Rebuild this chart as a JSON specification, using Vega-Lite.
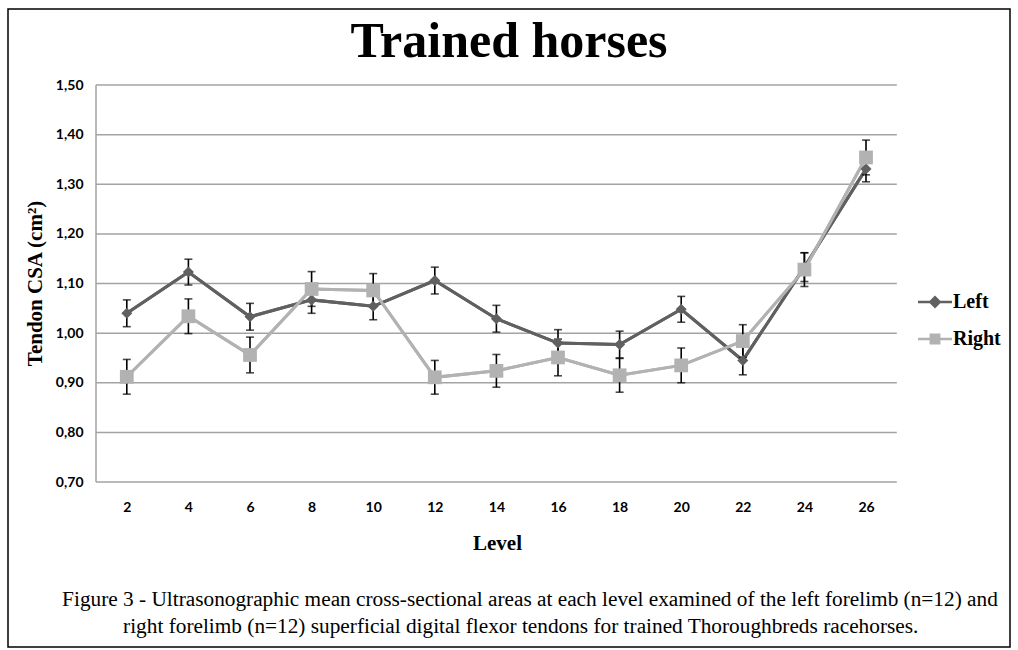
{
  "$schema": "https://vega.github.io/schema/vega-lite/v6.json",
  "width": 1002,
  "height": 638,
  "autosize": {"type": "none"},
  "padding": {"left": 8, "top": 9, "right": 8, "bottom": 3},
  "background": "white",
  "title": {"text": "Trained horses", "font": "Liberation Serif", "fontSize": 50, "fontWeight": "bold", "color": "black", "anchor": "middle", "frame": "group", "offset": -58},
  "config": {"view": {"stroke": "black", "strokeWidth": 1.5, "fill": "white"}},
  "datasets": {
    "cs": [
      {"level": 2, "side": "Left", "mean": 1.040, "lo": 1.013, "hi": 1.067},
      {"level": 4, "side": "Left", "mean": 1.123, "lo": 1.097, "hi": 1.149},
      {"level": 6, "side": "Left", "mean": 1.033, "lo": 1.006, "hi": 1.060},
      {"level": 8, "side": "Left", "mean": 1.067, "lo": 1.040, "hi": 1.094},
      {"level": 10, "side": "Left", "mean": 1.054, "lo": 1.027, "hi": 1.081},
      {"level": 12, "side": "Left", "mean": 1.106, "lo": 1.079, "hi": 1.133},
      {"level": 14, "side": "Left", "mean": 1.029, "lo": 1.002, "hi": 1.056},
      {"level": 16, "side": "Left", "mean": 0.980, "lo": 0.953, "hi": 1.007},
      {"level": 18, "side": "Left", "mean": 0.977, "lo": 0.950, "hi": 1.004},
      {"level": 20, "side": "Left", "mean": 1.048, "lo": 1.022, "hi": 1.074},
      {"level": 22, "side": "Left", "mean": 0.945, "lo": 0.916, "hi": 0.974},
      {"level": 24, "side": "Left", "mean": 1.133, "lo": 1.104, "hi": 1.162},
      {"level": 26, "side": "Left", "mean": 1.331, "lo": 1.305, "hi": 1.357},
      {"level": 2, "side": "Right", "mean": 0.912, "lo": 0.877, "hi": 0.947},
      {"level": 4, "side": "Right", "mean": 1.034, "lo": 0.999, "hi": 1.069},
      {"level": 6, "side": "Right", "mean": 0.956, "lo": 0.920, "hi": 0.992},
      {"level": 8, "side": "Right", "mean": 1.089, "lo": 1.054, "hi": 1.124},
      {"level": 10, "side": "Right", "mean": 1.086, "lo": 1.052, "hi": 1.120},
      {"level": 12, "side": "Right", "mean": 0.911, "lo": 0.877, "hi": 0.945},
      {"level": 14, "side": "Right", "mean": 0.924, "lo": 0.891, "hi": 0.957},
      {"level": 16, "side": "Right", "mean": 0.951, "lo": 0.914, "hi": 0.988},
      {"level": 18, "side": "Right", "mean": 0.915, "lo": 0.881, "hi": 0.949},
      {"level": 20, "side": "Right", "mean": 0.935, "lo": 0.900, "hi": 0.970},
      {"level": 22, "side": "Right", "mean": 0.984, "lo": 0.951, "hi": 1.017},
      {"level": 24, "side": "Right", "mean": 1.128, "lo": 1.094, "hi": 1.162},
      {"level": 26, "side": "Right", "mean": 1.354, "lo": 1.319, "hi": 1.389}
    ],
    "grid": [{"g": 0.7}, {"g": 0.8}, {"g": 0.9}, {"g": 1.0}, {"g": 1.1}, {"g": 1.2}, {"g": 1.3}, {"g": 1.4}, {"g": 1.5}]
  },
  "data": {"name": "cs"},
  "layer": [
    {
      "mark": {"type": "line", "strokeWidth": 3},
      "encoding": {
        "x": {"field": "level", "type": "quantitative", "title": "Level", "scale": {"domain": [-1.857, 30.675], "nice": false, "zero": false},
          "axis": {"values": [2, 4, 6, 8, 10, 12, 14, 16, 18, 20, 22, 24, 26], "domain": false, "ticks": false, "grid": false, "offset": -165,
            "labelFont": "Lato", "labelFontWeight": "bold", "labelFontSize": 14, "labelColor": "black", "labelPadding": 18, "labelFlush": false, "labelOverlap": false,
            "title": "Level", "titleFont": "Liberation Serif", "titleFontSize": 21, "titleFontWeight": "bold", "titleColor": "black", "titlePadding": 18, "titleX": 489}},
        "y": {"field": "mean", "type": "quantitative", "title": "Tendon CSA (cm²)", "scale": {"domain": [0.3675, 1.6532], "nice": false, "zero": false},
          "axis": {"values": [0.7, 0.8, 0.9, 1.0, 1.1, 1.2, 1.3, 1.4, 1.5], "labelExpr": "replace(format(datum.value, '.2f'), '.', ',')", "domain": false, "ticks": false, "grid": false, "offset": -88,
            "labelFont": "Lato", "labelFontWeight": "bold", "labelFontSize": 14, "labelColor": "black", "labelPadding": 13, "labelFlush": false, "labelOverlap": false,
            "title": "Tendon CSA (cm²)", "titleFont": "Liberation Serif", "titleFontSize": 21, "titleFontWeight": "bold", "titleColor": "black", "titlePadding": 10, "titleY": 274}},
        "color": {"field": "side", "type": "nominal", "scale": {"domain": ["Left", "Right"], "range": ["#606060", "#b2b2b2"]}, "legend": null}
      }
    },
    {
      "data": {"name": "grid"},
      "mark": {"type": "rule", "color": "#a3a3a3", "strokeWidth": 1.5},
      "encoding": {
        "y": {"field": "g", "type": "quantitative", "title": "Tendon CSA (cm²)"},
        "x": {"datum": 1, "type": "quantitative", "title": "Level"},
        "x2": {"datum": 27}
      }
    },
    {
      "data": {"values": [{}]},
      "mark": {"type": "rule", "color": "#a3a3a3", "strokeWidth": 1.5},
      "encoding": {
        "x": {"datum": 1, "type": "quantitative", "title": "Level"},
        "y": {"datum": 0.7, "type": "quantitative", "title": "Tendon CSA (cm²)"},
        "y2": {"datum": 1.5}
      }
    },
    {
      "mark": {"type": "line", "strokeWidth": 3},
      "encoding": {
        "x": {"field": "level", "type": "quantitative", "title": "Level"},
        "y": {"field": "mean", "type": "quantitative", "title": "Tendon CSA (cm²)"},
        "color": {"field": "side", "type": "nominal", "scale": {"domain": ["Left", "Right"], "range": ["#606060", "#b2b2b2"]}, "legend": null}
      }
    },
    {
      "mark": {"type": "errorbar", "ticks": {"size": 8, "thickness": 1.6, "color": "black"}, "rule": {"strokeWidth": 1.6, "color": "black"}},
      "encoding": {
        "x": {"field": "level", "type": "quantitative", "title": "Level"},
        "y": {"field": "lo", "type": "quantitative", "title": "Tendon CSA (cm²)"},
        "y2": {"field": "hi"}
      }
    },
    {
      "mark": {"type": "point", "filled": true, "opacity": 1, "size": 190},
      "encoding": {
        "x": {"field": "level", "type": "quantitative", "title": "Level"},
        "y": {"field": "mean", "type": "quantitative", "title": "Tendon CSA (cm²)"},
        "color": {"field": "side", "type": "nominal", "scale": {"domain": ["Left", "Right"], "range": ["#606060", "#b2b2b2"]}, "legend": null},
        "shape": {"field": "side", "type": "nominal", "scale": {"domain": ["Left", "Right"], "range": ["M0,-0.8L0.8,0L0,0.8L-0.8,0Z", "M-1,-1H1V1H-1Z"]}, "legend": null}
      }
    },
    {
      "transform": [{"filter": "datum.mean > 5"}],
      "mark": {"type": "point", "filled": true, "opacity": 1, "size": 1156},
      "encoding": {
        "x": {"field": "level", "type": "quantitative", "title": "Level"},
        "y": {"field": "mean", "type": "quantitative", "title": "Tendon CSA (cm²)"},
        "color": {"field": "side", "type": "nominal", "scale": {"domain": ["Left", "Right"], "range": ["#606060", "#b2b2b2"]},
          "legend": {"orient": "none", "legendX": 910, "legendY": 276, "title": null, "padding": 0,
            "labelFont": "Liberation Serif", "labelFontSize": 20, "labelFontWeight": "bold", "labelColor": "black", "labelOffset": 1,
            "symbolSize": 1156, "symbolStrokeWidth": 0, "rowPadding": 10}},
        "shape": {"field": "side", "type": "nominal",
          "scale": {"domain": ["Left", "Right"], "range": ["M-1,-0.08H1V0.08H-1Z M0,-0.38L0.38,0L0,0.38L-0.38,0Z", "M-1,-0.08H1V0.08H-1Z M-0.32,-0.32H0.32V0.32H-0.32Z"]},
          "legend": {"orient": "none", "legendX": 910, "legendY": 276, "title": null, "padding": 0,
            "labelFont": "Liberation Serif", "labelFontSize": 20, "labelFontWeight": "bold", "labelColor": "black", "labelOffset": 1,
            "symbolSize": 1156, "symbolStrokeWidth": 0, "rowPadding": 10}}
      }
    },
    {
      "data": {"values": [{}]},
      "mark": {"type": "text", "align": "left", "baseline": "middle", "font": "Liberation Serif", "fontSize": 21.3, "color": "black"},
      "encoding": {
        "x": {"datum": -0.1, "type": "quantitative", "title": "Level"},
        "y": {"datum": 0.462, "type": "quantitative", "title": "Tendon CSA (cm²)"},
        "text": {"value": "Figure 3 - Ultrasonographic mean cross-sectional areas at each level examined of the left forelimb (n=12) and"}
      }
    },
    {
      "data": {"values": [{}]},
      "mark": {"type": "text", "align": "left", "baseline": "middle", "font": "Liberation Serif", "fontSize": 21.3, "color": "black"},
      "encoding": {
        "x": {"datum": 1.88, "type": "quantitative", "title": "Level"},
        "y": {"datum": 0.407, "type": "quantitative", "title": "Tendon CSA (cm²)"},
        "text": {"value": "right forelimb (n=12) superficial digital flexor tendons for trained Thoroughbreds racehorses."}
      }
    }
  ],
  "resolve": {"scale": {"shape": "independent", "color": "independent"}}
}
